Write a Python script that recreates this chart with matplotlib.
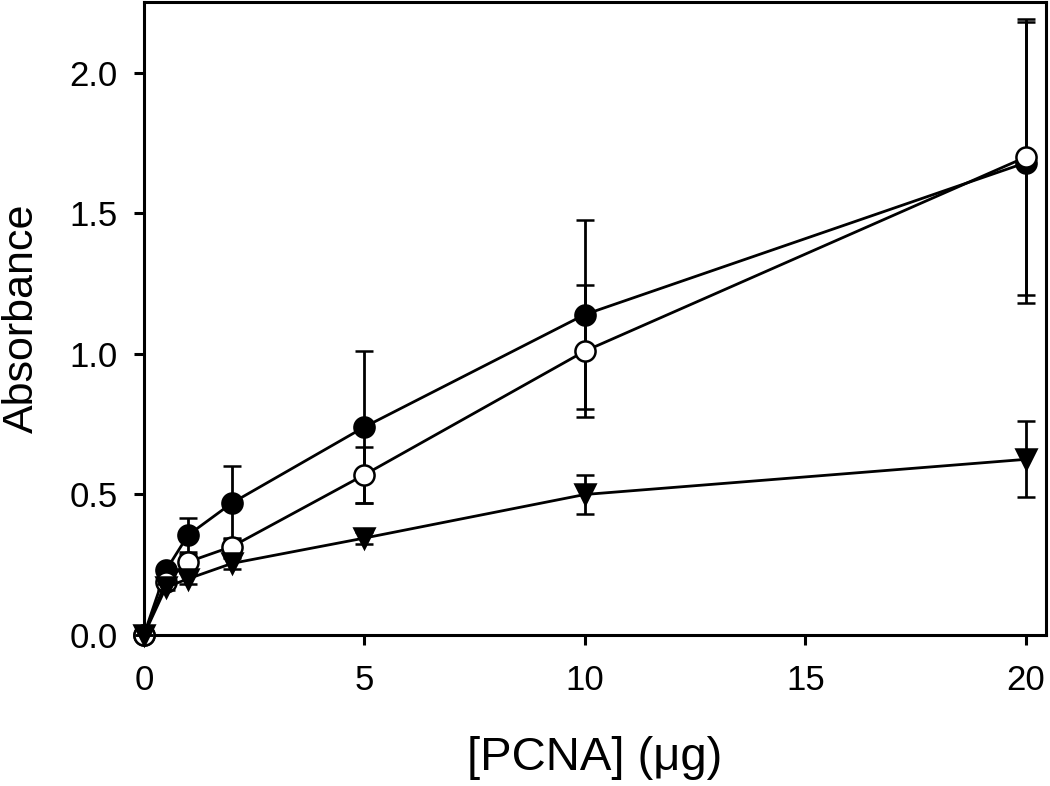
import numpy as np
import matplotlib.pyplot as plt

plt.rcParams['font.family'] = ['Liberation Sans', 'DejaVu Sans']

# PCNA amount (ug)
pcna = [0, 0.5, 1, 2, 5, 10, 20]

# filled circles
filled = [0.0, 0.23, 0.355, 0.47, 0.74, 1.14, 1.68]
filled_err = [0.0, 0.02, 0.06, 0.13, 0.27, 0.335, 0.50]

# open circles
open_ = [0.0, 0.19, 0.26, 0.315, 0.57, 1.01, 1.70]
open_err = [0.0, 0.02, 0.03, 0.03, 0.10, 0.235, 0.49]

# filled triangles
tri = [0.0, 0.17, 0.20, 0.255, 0.345, 0.50, 0.625]
tri_err = [0.0, 0.01, 0.02, 0.02, 0.02, 0.07, 0.135]

fig = plt.figure(figsize=(10.5, 7.86), dpi=100)
ax = fig.add_axes([0.137, 0.192, 0.859, 0.805])

common = dict(color='black', lw=2.0, elinewidth=2.0, capsize=6.5, capthick=2.0,
              markeredgecolor='black', markeredgewidth=1.8, clip_on=False)
ax.errorbar(pcna, filled, yerr=filled_err, fmt='-o', ms=14.5, markerfacecolor='black', zorder=3, **common)
ax.errorbar(pcna, open_, yerr=open_err, fmt='-o', ms=14.5, markerfacecolor='white', zorder=4, **common)
ax.errorbar(pcna, tri, yerr=tri_err, fmt='-v', ms=15, markerfacecolor='black', zorder=5, **common)

ax.set_xlim(0, 20.45)
ax.set_ylim(0, 2.25)
ax.set_xticks([0, 5, 10, 15, 20])
ax.set_yticks([0.0, 0.5, 1.0, 1.5, 2.0])
ax.set_yticklabels(['0.0', '0.5', '1.0', '1.5', '2.0'])
ax.tick_params(direction='out', length=7, width=2.2, labelsize=25)
ax.tick_params(axis='y', pad=12)
ax.tick_params(axis='x', pad=14)
for s in ax.spines.values():
    s.set_linewidth(2.2)

ax.set_xlabel('[PCNA] (\u03bcg)', fontsize=34, labelpad=28)
ax.set_ylabel('Absorbance', fontsize=31, labelpad=20)

fig.savefig('out.png', dpi=100)
